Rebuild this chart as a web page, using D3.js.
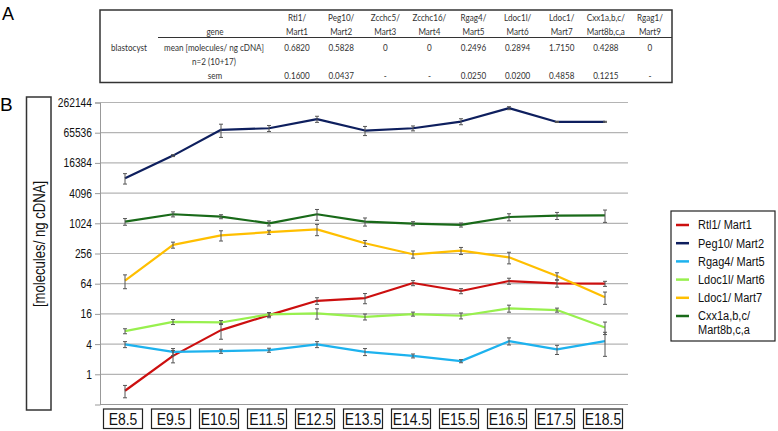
<!DOCTYPE html>
<html lang="en">
<head>
  <meta charset="UTF-8">
  <title>Mart gene expression</title>
  <script src="https://d3js.org/d3.v7.min.js"></script>
  <style>
    body { margin: 0; background: #fff; }
    svg { display: block; }
    .narrow { font-family: 'Liberation Sans', Arial, sans-serif; }
    .tbl { font-family: Lato, 'Open Sans', sans-serif; font-size: 10px; fill: #333; }
  </style>
</head>
<body>
<svg id="fig" width="778" height="431"></svg>
<script>
// table A
const geneTop = ["Rtl1/", "Peg10/", "Zcchc5/", "Zcchc16/", "Rgag4/", "Ldoc1l/", "Ldoc1/", "Cxx1a,b,c/", "Rgag1/"];
const geneBottom = ["Mart1", "Mart2", "Mart3", "Mart4", "Mart5", "Mart6", "Mart7", "Mart8b,c,a", "Mart9"];
const blastMean = ["0.6820", "0.5828", "0", "0", "0.2496", "0.2894", "1.7150", "0.4288", "0"];
const blastSem = ["0.1600", "0.0437", "-", "-", "0.0250", "0.0200", "0.4858", "0.1215", "-"];

// chart B
const stages = ["E8.5", "E9.5", "E10.5", "E11.5", "E12.5", "E13.5", "E14.5", "E15.5", "E16.5", "E17.5", "E18.5"];
const yTicks = [1, 4, 16, 64, 256, 1024, 4096, 16384, 65536, 262144];

const rtl1 = [0.47, 2.33, 7.6, 15.1, 29.2, 33.1, 66, 45.7, 72.3, 65.1, 64];
const rtl1Sem = [0.13, 0.64, 2.6, 1.7, 4.4, 7.6, 7.6, 5.3, 10, 10.5, 7.4];
const peg10 = [8100, 22900, 74800, 80300, 122300, 72400, 80300, 109400, 202600, 107300, 108000];
const peg10Sem = [1900, 1000, 22000, 11000, 17000, 15000, 9000, 15000, 14000, 2500, 2500];
const rgag4 = [3.94, 2.81, 2.89, 3.03, 3.94, 2.81, 2.33, 1.83, 4.58, 3.13, 4.58];
const rgag4Sem = [0.54, 0.45, 0.27, 0.28, 0.54, 0.45, 0.21, 0.13, 0.74, 0.65, 2.3];
const ldoc1l = [7.26, 11.1, 10.8, 15.6, 16.4, 14.0, 15.9, 14.7, 20.6, 19.1, 8.6];
const ldoc1lSem = [0.83, 1.28, 0.99, 1.44, 3.8, 1.9, 1.46, 2.0, 3.3, 1.76, 2.4];
const ldoc1 = [73.4, 379, 590, 681, 776, 409, 247, 291, 215, 91, 34.2];
const ldoc1Sem = [22.6, 52, 136, 63, 196, 56, 40, 47, 56, 14.7, 9.4];
const cxx1 = [1104, 1552, 1390, 1024, 1552, 1104, 1010, 949, 1367, 1454, 1475];
const cxx1Sem = [168, 178, 128, 118, 379, 203, 93, 87, 220, 234, 407];

const series = [
  { name: ["Rtl1/ Mart1"], values: rtl1, sem: rtl1Sem, color: "#cc0f0f" },
  { name: ["Peg10/ Mart2"], values: peg10, sem: peg10Sem, color: "#0e1f5e" },
  { name: ["Rgag4/ Mart5"], values: rgag4, sem: rgag4Sem, color: "#1db2ee" },
  { name: ["Ldoc1l/ Mart6"], values: ldoc1l, sem: ldoc1lSem, color: "#98f04e" },
  { name: ["Ldoc1/ Mart7"], values: ldoc1, sem: ldoc1Sem, color: "#ffbf00" },
  { name: ["Cxx1a,b,c/", "Mart8b,c,a"], values: cxx1, sem: cxx1Sem, color: "#196a19" }
];

const svg = d3.select("#fig");

// ---------- panel A ----------
svg.append("text").attr("class", "narrow")
  .attr("x", 2).attr("y", 20).attr("font-size", 18).text("A");

const tbl = svg.append("g");
const col = d3.scaleBand().domain(d3.range(geneTop.length)).range([275, 672]);
tbl.append("rect").attr("x", 100).attr("y", 10).attr("width", 572).attr("height", 72.5)
  .attr("fill", "none").attr("stroke", "#333").attr("stroke-width", 1.5);
tbl.append("line").attr("x1", 158).attr("x2", 672).attr("y1", 37.5).attr("y2", 37.5)
  .attr("stroke", "#333").attr("stroke-width", 1);

const rowText = (arr, y) => tbl.selectAll(null).data(arr).join("text")
  .attr("class", "tbl squeeze").attr("text-anchor", "middle")
  .attr("x", (d, i) => col(i) + col.bandwidth() / 2).attr("y", y)
  .attr("dy", "0.35em").text(d => d);
rowText(geneTop, 17);
rowText(geneBottom, 31);
rowText(blastMean, 47.5);
rowText(blastSem, 75.5);

[["blastocyst", 129, 47.5], ["gene", 215, 31], ["mean [molecules/ ng cDNA]", 214, 47.5],
 ["n=2 (10+17)", 214, 61], ["sem", 215, 75.5]].forEach(([t, x, y]) => {
  tbl.append("text").attr("class", "tbl squeeze").attr("text-anchor", "middle")
    .attr("x", x).attr("y", y).attr("dy", "0.35em").text(t);
});

// ---------- panel B ----------
svg.append("text").attr("class", "narrow")
  .attr("x", 0).attr("y", 111).attr("font-size", 19).text("B");

const x = d3.scalePoint().domain(stages).range([125, 605]);
const y = d3.scaleLog().base(4).domain([0.25, 262144]).range([404.5, 102.5]);
const plotL = 100, plotR = 628;

// gridlines
svg.append("g").selectAll("line").data(yTicks).join("line")
  .attr("x1", plotL).attr("x2", plotR)
  .attr("y1", d => y(d)).attr("y2", d => y(d))
  .attr("stroke", "#b4b4b4").attr("stroke-width", 1.2);

// left axis
const yAxis = svg.append("g").attr("transform", `translate(${plotL},0)`)
  .call(d3.axisLeft(y).tickValues(yTicks).tickFormat(d3.format("d")).tickSize(5).tickPadding(3));
yAxis.select(".domain").attr("stroke", "#999");
yAxis.selectAll(".tick line").attr("stroke", "#999");
yAxis.selectAll("text").attr("class", "narrow squeeze").attr("font-size", 12.5)
  .attr("font-family", null).attr("fill", "#111");

svg.append("line").attr("x1", plotL).attr("x2", plotR)
  .attr("y1", y(0.25)).attr("y2", y(0.25)).attr("stroke", "#999").attr("stroke-width", 1.2);

// y title box
svg.append("rect").attr("x", 26.5).attr("y", 97).attr("width", 24.5).attr("height", 313)
  .attr("fill", "#fff").attr("stroke", "#333").attr("stroke-width", 1.5);
svg.append("text").attr("class", "narrow squeeze")
  .attr("transform", "translate(39,244) rotate(-90)")
  .attr("text-anchor", "middle").attr("dy", "0.35em")
  .attr("font-size", 16).attr("fill", "#111")
  .text("[molecules/ ng cDNA]");

// lines
const line = d3.line().x((d, i) => x(stages[i])).y(d => y(d));
svg.append("g").selectAll("path").data(series).join("path")
  .attr("d", s => line(s.values))
  .attr("fill", "none").attr("stroke", s => s.color).attr("stroke-width", 2.2)
  .attr("stroke-linejoin", "round");

// error bars
const eb = svg.append("g").attr("stroke", "#555").attr("stroke-width", 1);
series.forEach(s => {
  s.values.forEach((v, i) => {
    const cx = x(stages[i]);
    const lo = y(Math.max(v - s.sem[i], 0.01)), hi = y(v + s.sem[i]);
    eb.append("line").attr("x1", cx).attr("x2", cx).attr("y1", lo).attr("y2", hi);
    eb.append("line").attr("x1", cx - 2).attr("x2", cx + 2).attr("y1", lo).attr("y2", lo);
    eb.append("line").attr("x1", cx - 2).attr("x2", cx + 2).attr("y1", hi).attr("y2", hi);
  });
});

// stage boxes
const sb = svg.append("g").selectAll("g").data(stages).join("g")
  .attr("transform", d => `translate(${x(d) - 2},0)`);
sb.append("rect").attr("x", -19.5).attr("y", 409).attr("width", 39).attr("height", 19.5)
  .attr("fill", "#fff").attr("stroke", "#222").attr("stroke-width", 1.2);
sb.append("text").attr("class", "narrow squeeze").attr("text-anchor", "middle")
  .attr("y", 419).attr("dy", "0.36em").attr("font-size", 17).attr("fill", "#111")
  .text(d => d);

// legend
const leg = svg.append("g");
leg.append("rect").attr("x", 671).attr("y", 211).attr("width", 104).attr("height", 130)
  .attr("fill", "#fff").attr("stroke", "#222").attr("stroke-width", 1.2);
const legY = d3.scalePoint().domain(d3.range(series.length)).range([225, 316]);
series.forEach((s, i) => {
  const ly = legY(i);
  leg.append("line").attr("x1", 676).attr("x2", 689).attr("y1", ly).attr("y2", ly)
    .attr("stroke", s.color).attr("stroke-width", 2.5);
  s.name.forEach((t, j) => {
    leg.append("text").attr("class", "narrow squeeze legtext").attr("x", 698).attr("y", ly + j * 14)
      .attr("dy", "0.35em").attr("font-size", 12.5).attr("fill", "#111").text(t);
  });
});

// the source figure uses condensed lettering: squeeze text horizontally
svg.selectAll(".squeeze").each(function () {
  const c = this.classList;
  const f = c.contains("tbl") ? 0.81 : c.contains("legtext") ? 0.88 : 0.82;
  const w = this.getComputedTextLength();
  d3.select(this).attr("textLength", w * f).attr("lengthAdjust", "spacingAndGlyphs");
});
</script>
</body>
</html>
